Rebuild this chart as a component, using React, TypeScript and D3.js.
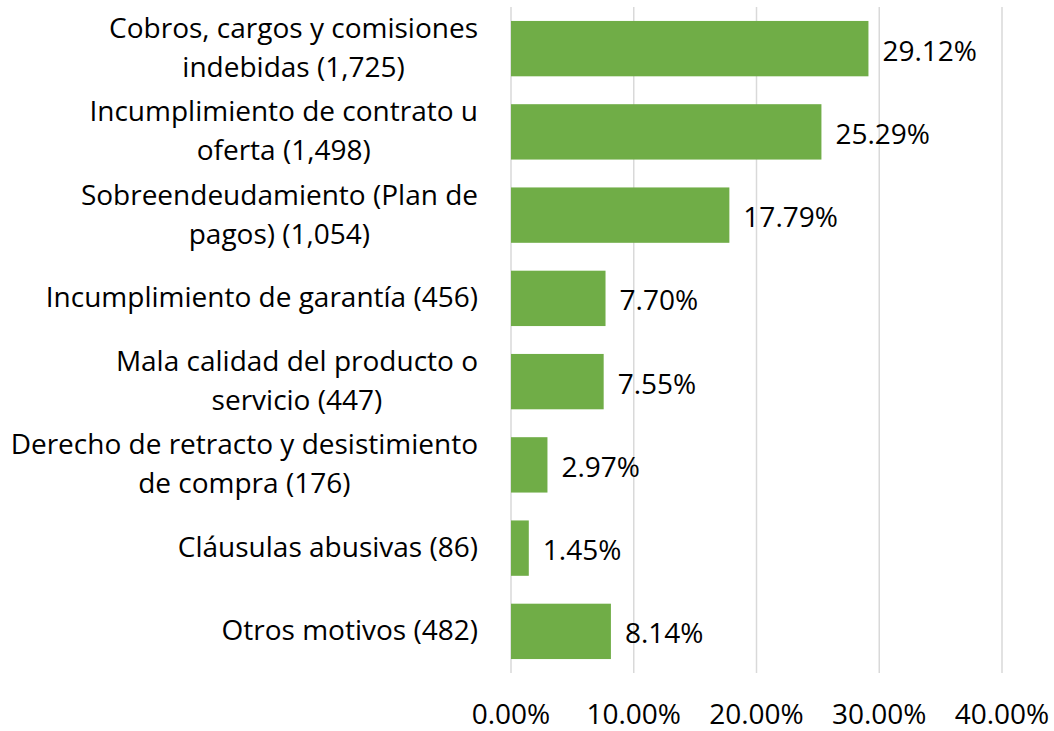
import React, { useEffect, useRef } from "react";
import * as d3 from "d3";

const categories: string[][] = [
  ["Cobros, cargos y comisiones", "indebidas (1,725)"],
  ["Incumplimiento de contrato u", "oferta (1,498)"],
  ["Sobreendeudamiento (Plan de", "pagos) (1,054)"],
  ["Incumplimiento de garantía (456)"],
  ["Mala calidad del producto o", "servicio (447)"],
  ["Derecho de retracto y desistimiento", "de compra (176)"],
  ["Cláusulas abusivas (86)"],
  ["Otros motivos (482)"],
];
const values: number[] = [29.12, 25.29, 17.79, 7.7, 7.55, 2.97, 1.45, 8.14];
const ticks: number[] = [0, 10, 20, 30, 40];

const W = 1054;
const H = 731;
const FONT = "'Open Sans', sans-serif";
const FS = 28;

export default function App() {
  const ref = useRef<SVGSVGElement | null>(null);

  useEffect(() => {
    const svg = d3.select(ref.current);
    svg.selectAll("*").remove();

    const x = d3.scaleLinear().domain([0, 40]).range([511, 1002]);
    const y = d3
      .scaleBand<number>()
      .domain(d3.range(categories.length))
      .range([7, 673])
      .paddingInner(0.335)
      .paddingOuter(0.1675);

    svg
      .append("g")
      .selectAll("line")
      .data(ticks)
      .join("line")
      .attr("x1", (d) => x(d))
      .attr("x2", (d) => x(d))
      .attr("y1", 7)
      .attr("y2", 673)
      .attr("stroke", "#D9D9D9")
      .attr("stroke-width", 1.5);

    svg
      .append("g")
      .selectAll("rect")
      .data(values)
      .join("rect")
      .attr("x", x(0))
      .attr("y", (_, i) => y(i)!)
      .attr("width", (d) => x(d) - x(0))
      .attr("height", y.bandwidth())
      .attr("fill", "#70AD47");

    svg
      .append("g")
      .selectAll("text")
      .data(values)
      .join("text")
      .attr("x", (d) => x(d) + 14)
      .attr("y", (_, i) => y(i)! + y.bandwidth() / 2 + 12)
      .attr("font-family", FONT)
      .attr("font-size", FS)
      .attr("fill", "#000")
      .text((d) => d.toFixed(2) + "%");

    svg
      .append("g")
      .selectAll("text")
      .data(ticks)
      .join("text")
      .attr("x", (d) => x(d))
      .attr("y", 724)
      .attr("text-anchor", "middle")
      .attr("font-family", FONT)
      .attr("font-size", FS)
      .attr("fill", "#000")
      .text((d) => d.toFixed(2) + "%");

    const lineH = 39;
    const right = 478;
    const cat = svg.append("g");
    categories.forEach((lines, i) => {
      const cy = y(i)! + y.bandwidth() / 2;
      const g = cat.append("g");
      const texts = lines.map((l, j) =>
        g
          .append("text")
          .attr("y", cy + (j - (lines.length - 1) / 2) * lineH + 9)
          .attr("text-anchor", "middle")
          .attr("font-family", FONT)
          .attr("font-size", FS)
          .attr("fill", "#000")
          .text(l)
      );
      const maxW = d3.max(texts, (t) => (t.node() as SVGTextElement).getComputedTextLength()) || 0;
      texts.forEach((t) => t.attr("x", right - maxW / 2));
    });
  }, []);

  return (
    <svg ref={ref} width={W} height={H} style={{ position: "absolute", left: 0, top: 0, background: "#fff" }} />
  );
}
